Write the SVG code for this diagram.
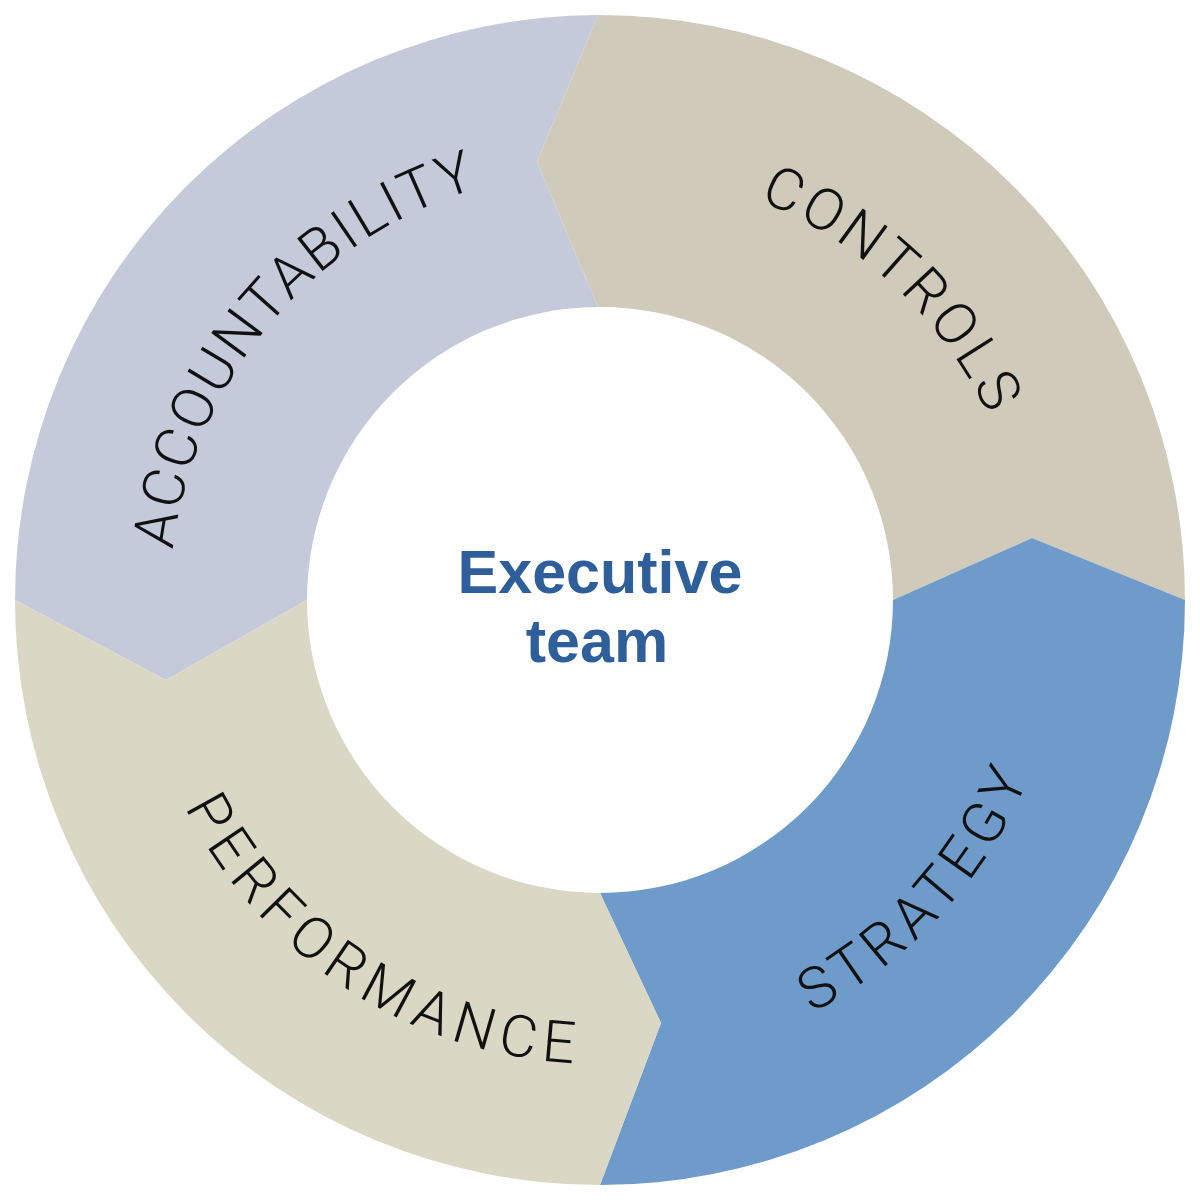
<svg xmlns="http://www.w3.org/2000/svg" width="1200" height="1200" viewBox="0 0 1200 1200">
  <style>
    .seg { stroke: none; }
    .lbl { font-family: Roboto, "Liberation Sans", sans-serif; font-weight: 300; font-size: 58px; fill: #111111; }
    .ctr { font-family: "Liberation Sans", Arial, sans-serif; font-weight: bold; font-size: 61px; fill: #2F5F9A; text-anchor: middle; }
  </style>
  <defs>
    <path id="arcAcc" d="M176.2,754.3 A451,451 0 0 1 678.3,155.9"/>
    <path id="arcCon" d="M468.1,168.7 A451,451 0 0 1 1039.4,701.5"/>
    <path id="arcStr" d="M501.9,1032 A443,443 0 0 0 1023.2,469"/>
    <path id="arcPer" d="M157.8,573.7 A443,443 0 0 0 798.4,996.1"/>
  </defs>
  <rect width="1200" height="1200" fill="#ffffff"/>
  <g id="accountability">
    <path class="seg" fill="#C5CADB" d="M15,600 A585,585 0 0 1 598,15 L537,162 L598,307 A293,293 0 0 0 307,600 L166,680 Z"/>
    <text class="lbl" letter-spacing="4.5"><textPath href="#arcAcc" startOffset="50.3%" text-anchor="middle"><tspan dy="21">ACCOUNTABILITY</tspan></textPath></text>
  </g>
  <g id="controls">
    <path class="seg" fill="#CFCABA" d="M598,15 A585,585 0 0 1 1185,600 L1032,538 L893,600 A293,293 0 0 0 598,307 L537,162 Z"/>
    <text class="lbl" letter-spacing="6"><textPath href="#arcCon" startOffset="50.4%" text-anchor="middle"><tspan dy="21">CONTROLS</tspan></textPath></text>
  </g>
  <g id="strategy">
    <path class="seg" fill="#6E9BCA" d="M1185,600 A585,585 0 0 1 600,1185 L661,1023 L600,893 A293,293 0 0 0 893,600 L1032,538 Z"/>
    <text class="lbl" letter-spacing="4.6"><textPath href="#arcStr" startOffset="50.3%" text-anchor="middle"><tspan dy="21">STRATEGY</tspan></textPath></text>
  </g>
  <g id="performance">
    <path class="seg" fill="#DBD7C5" d="M600,1185 A585,585 0 0 1 15,600 L166,680 L307,600 A293,293 0 0 0 600,893 L661,1023 Z"/>
    <text class="lbl" letter-spacing="5.4"><textPath href="#arcPer" startOffset="50.3%" text-anchor="middle"><tspan dy="21">PERFORMANCE</tspan></textPath></text>
  </g>
  <g id="executive-team">
    <text class="ctr" x="600" y="593">Executive</text>
    <text class="ctr" x="597" y="662">team</text>
  </g>
  <g id="connectors"></g>
</svg>
